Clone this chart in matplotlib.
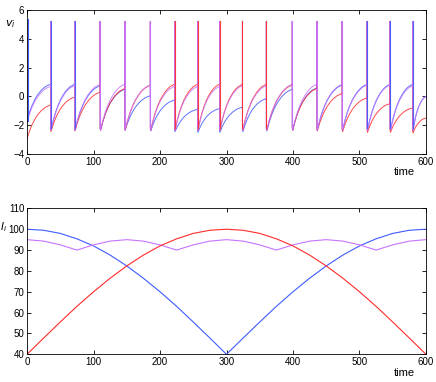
import numpy as np
import matplotlib
matplotlib.use('Agg')
import matplotlib.pyplot as plt

plt.rcParams['font.family'] = ['Liberation Sans', 'DejaVu Sans']

# Top panel: spike times (shared by the three units) and per-interval levels
spike_t = [1, 35.5, 71.5, 110, 147, 185.5, 222, 256.5, 289.5, 324, 360,
           399, 436, 474, 511.5, 546, 580]
t_end = 600
peak_v = 5.2

pre_blue = [0.85, 0.85, 0.75, 0.5, 0.05, -0.25, -0.9, -0.85, -0.75, -0.15,
            0.5, 0.6, 0.8, 0.85, 0.85, 0.85, 0.0]
pre_purple = [0.7, 0.75, 0.85, 0.85, 0.8, 0.7, 0.7, 0.7, 0.75, 0.75,
              0.85, 0.85, 0.85, 0.8, 0.8, 0.75, 0.0]
pre_red = [-0.6, -0.05, 0.3, 0.55, 0.78, 0.85, 0.85, 0.85, 0.85, 0.85,
           0.8, 0.55, 0.2, -0.1, -0.5, -0.8, -1.5]

trough_blue = [-1.7, -2.35, -2.35, -2.35, -2.35, -2.4, -2.45, -2.5, -2.5,
               -2.45, -2.4, -2.35, -2.35, -2.35, -2.35, -2.35, -2.35]
trough_purple = [-1.8, -2.35, -2.35, -2.35, -2.35, -2.35, -2.35, -2.35,
                 -2.35, -2.35, -2.35, -2.35, -2.35, -2.35, -2.35, -2.35, -2.35]
trough_red = [-2.95, -2.45, -2.4, -2.35, -2.35, -2.35, -2.35, -2.35, -2.35,
              -2.35, -2.35, -2.35, -2.4, -2.45, -2.5, -2.5, -2.55]

# rise profile of one inter-spike interval (fraction of rise vs fraction of time)
prof_s = [0, 0.1, 0.2, 0.3, 0.4, 0.5, 0.6, 0.7, 0.8, 0.9, 1.0]
prof_r = [0, 0.22, 0.4, 0.54, 0.66, 0.75, 0.83, 0.89, 0.94, 0.97, 1.0]

# Bottom panel: input currents, read every 25 time units
t_in = [0, 25, 50, 75, 100, 125, 150, 175, 200, 225, 250, 275, 300,
        325, 350, 375, 400, 425, 450, 475, 500, 525, 550, 575, 600]
I_blue = [100, 99.5, 98.0, 95.4, 92.0, 87.6, 82.4, 76.5, 70.0, 63.0, 55.5, 47.8, 40,
          47.8, 55.5, 63.0, 70.0, 76.5, 82.4, 87.6, 92.0, 95.4, 98.0, 99.5, 100]
I_red = [40, 47.8, 55.5, 63.0, 70.0, 76.5, 82.4, 87.6, 92.0, 95.4, 98.0, 99.5, 100,
         99.5, 98.0, 95.4, 92.0, 87.6, 82.4, 76.5, 70.0, 63.0, 55.5, 47.8, 40]
I_purple = [95, 94.3, 92.5, 90, 92.5, 94.3, 95, 94.3, 92.5, 90, 92.5, 94.3, 95,
            94.3, 92.5, 90, 92.5, 94.3, 95, 94.3, 92.5, 90, 92.5, 94.3, 95]

c_blue = '#3f5bff'
c_red = '#ff2b2b'
c_purple = '#c774ff'


def trace(pre, trough):
    ts, vs = [], []
    starts = [0] + [s + 0.6 for s in spike_t[1:]]
    stops = spike_t[1:] + [t_end]
    for k, (a, b) in enumerate(zip(starts, stops)):
        for s, r in zip(prof_s, prof_r):
            ts.append(a + s * (b - a))
            vs.append(trough[k] + r * (pre[k] - trough[k]))
        if k < len(spike_t) - 1:
            ts += [b, b]
            vs += [peak_v, trough[k + 1] + 0.15]
    return ts, vs


fig = plt.figure(figsize=(4.36, 3.82), dpi=100)
ax1 = fig.add_axes([0.062, 0.597, 0.915, 0.377])
ax2 = fig.add_axes([0.062, 0.0725, 0.915, 0.382])

series = [(pre_blue, trough_blue, c_blue),
          (pre_red, trough_red, c_red),
          (pre_purple, trough_purple, c_purple)]
for pre, tr, c in series:
    ts, vs = trace(pre, tr)
    ax1.plot(ts, vs, color=c, lw=0.7, alpha=0.85)

# first spike (blue) at the start
ax1.plot([spike_t[0], spike_t[0]], [trough_blue[0], 5.4], color=c_blue, lw=0.8)
# leading unit's spike drawn on top
for k, st in enumerate(spike_t[1:]):
    vals = [pre_blue[k], pre_red[k], pre_purple[k]]
    c = [c_blue, c_red, c_purple][int(np.argmax(vals))]
    ax1.plot([st, st], [-2.2, peak_v], color=c, lw=0.8, alpha=0.9, zorder=5)

ax1.set_xlim(0, 600)
ax1.set_ylim(-4, 6)
ax1.set_yticks([-4, -2, 0, 2, 4, 6])
ax1.text(-0.043, 0.9, r'$v_i$', transform=ax1.transAxes, fontsize=8,
         ha='center', va='center')
ax1.text(0.947, -0.125, 'time', transform=ax1.transAxes, fontsize=8,
         ha='center', va='center')

ax2.plot(t_in, I_blue, color=c_blue, lw=0.8)
ax2.plot(t_in, I_purple, color=c_purple, lw=0.8)
ax2.plot(t_in, I_red, color=c_red, lw=0.8)
ax2.set_xlim(0, 600)
ax2.set_ylim(40, 110)
ax2.set_yticks(range(40, 111, 10))
ax2.text(-0.06, 0.87, r'$I_i$', transform=ax2.transAxes, fontsize=7.5,
         ha='center', va='center')
ax2.text(0.947, -0.13, 'time', transform=ax2.transAxes, fontsize=8,
         ha='center', va='center')

for ax in (ax1, ax2):
    ax.set_xticks(range(0, 601, 100))
    ax.tick_params(direction='in', top=True, right=True, labelsize=7,
                   length=3, width=0.6, pad=2)
    for sp in ax.spines.values():
        sp.set_linewidth(0.6)

fig.savefig('out.png', dpi=100)
